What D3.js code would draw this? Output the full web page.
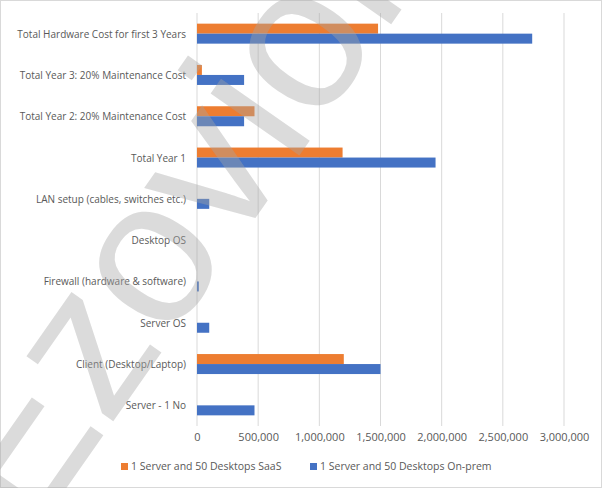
<!DOCTYPE html>
<html><head><meta charset="utf-8">
<script src="https://cdn.jsdelivr.net/npm/d3@7"></script>
<style>body{margin:0;background:#fff}text{font-family:"Open Sans",sans-serif}</style>
</head><body><svg id="c" width="602" height="488"></svg>
<script>
const categories=["Total Hardware Cost for first 3 Years","Total Year 3: 20% Maintenance Cost","Total Year 2: 20% Maintenance Cost","Total Year 1","LAN setup (cables, switches etc.)","Desktop OS","Firewall (hardware & software)","Server OS","Client (Desktop/Laptop)","Server - 1 No"];
const saas=[1480000,40000,470000,1190000,0,0,0,0,1200000,0];
const onprem=[2740000,385000,385000,1950000,100000,0,15000,100000,1500000,470000];
const ticks=[0,500000,1000000,1500000,2000000,2500000,3000000];
const seriesNames=["1 Server and 50 Desktops SaaS","1 Server and 50 Desktops On-prem"];
const colors=["#ED7D31","#4472C4"];
const svg=d3.select("#c");
svg.append("rect").attr("x",0.5).attr("y",0.5).attr("width",601).attr("height",487).attr("fill","#fff").attr("stroke","#d9d9d9");
const x=d3.scaleLinear().domain([0,3000000]).range([197,564]);
const y=d3.scaleBand().domain(categories).range([13,426]);
svg.append("g").selectAll("line").data(ticks).join("line").attr("x1",d=>x(d)).attr("x2",d=>x(d)).attr("y1",13).attr("y2",426).attr("stroke","#d9d9d9");
const ax=svg.append("g").attr("transform","translate(0,426)").call(d3.axisBottom(x).tickValues(ticks).tickFormat(d3.format(",")).tickSize(0).tickPadding(7));
ax.select(".domain").remove();
ax.selectAll("text").attr("fill","#595959").style("font-size","11px");
const bh=10;
[saas,onprem].forEach((vals,s)=>{
 svg.append("g").selectAll("rect").data(vals).join("rect")
 .attr("x",x(0)).attr("y",(d,i)=>y(categories[i])+y.bandwidth()/2-bh+s*bh)
 .attr("width",d=>x(d)-x(0)).attr("height",bh).attr("fill",colors[s]);
});
svg.append("g").selectAll("text").data(categories).join("text")
 .attr("x",186).attr("y",d=>y(d)+y.bandwidth()/2+4).attr("text-anchor","end")
 .attr("fill","#595959").style("font-size","10px").text(d=>d);
const lx=[121,310];
seriesNames.forEach((n,i)=>{
 svg.append("rect").attr("x",lx[i]).attr("y",463).attr("width",7).attr("height",7).attr("fill",colors[i]);
 svg.append("text").attr("x",lx[i]+10).attr("y",470).attr("fill","#595959").style("font-size","10.5px").text(n);
});
svg.append("text").attr("transform","translate(30,540) rotate(-55)").attr("fill","#a6a6a6").attr("fill-opacity",0.4)
 .style("font-size","205px").style("font-family","Liberation Sans, sans-serif").text("Ezovion");
</script></body></html>
